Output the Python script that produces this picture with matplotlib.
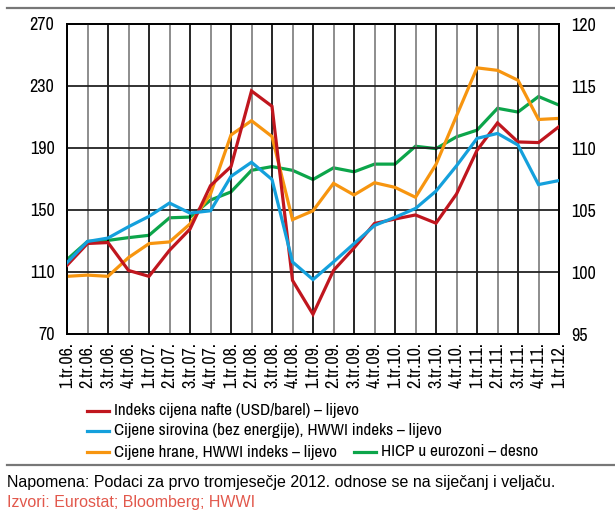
import matplotlib
matplotlib.use("Agg")
import matplotlib.pyplot as plt
from matplotlib import font_manager as fm

categories = ["1.tr.06.", "2.tr.06.", "3.tr.06.", "4.tr.06.",
              "1.tr.07.", "2.tr.07.", "3.tr.07.", "4.tr.07.",
              "1.tr.08.", "2.tr.08.", "3.tr.08.", "4.tr.08.",
              "1.tr.09.", "2.tr.09.", "3.tr.09.", "4.tr.09.",
              "1.tr.10.", "2.tr.10.", "3.tr.10.", "4.tr.10.",
              "1.tr.11.", "2.tr.11.", "3.tr.11.", "4.tr.11.", "1.tr.12."]

oil = [114.3, 128.4, 129.0, 111.0, 107.2, 124.0, 137.7, 165.7, 178.0, 226.8,
       216.9, 104.6, 82.7, 111.0, 125.5, 141.3, 144.2, 146.8, 141.5, 160.3,
       188.5, 206.2, 193.9, 193.5, 203.8]
raw = [116.0, 129.7, 131.9, 139.2, 145.9, 154.5, 148.0, 149.5, 171.7, 180.8,
       169.7, 116.5, 105.1, 116.5, 128.3, 140.0, 145.3, 151.0, 162.2, 178.5,
       196.2, 199.4, 191.9, 166.4, 169.0]
food = [107.2, 108.0, 107.2, 119.3, 128.3, 129.4, 141.0, 160.3, 198.4, 207.6,
        197.4, 143.8, 149.5, 167.2, 159.7, 167.6, 164.6, 158.2, 179.4, 210.7,
        241.7, 240.1, 233.7, 208.4, 209.1]
hicp = [101.0, 102.46, 102.55, 102.77, 102.96, 104.37, 104.43, 105.8, 106.46, 108.2,
        108.5, 108.2, 107.46, 108.4, 108.08, 108.7, 108.7, 110.14, 109.95, 110.9,
        111.44, 113.2, 112.9, 114.15, 113.46]

left_ticks = [70, 110, 150, 190, 230, 270]
right_ticks = [95, 100, 105, 110, 115, 120]

legend_labels = ["Indeks cijena nafte (USD/barel) – lijevo",
                 "Cijene sirovina (bez energije), HWWI indeks – lijevo",
                 "Cijene hrane, HWWI indeks – lijevo",
                 "HICP u eurozoni – desno"]
note_text = "Napomena: Podaci za prvo tromjesečje 2012. odnose se na siječanj i veljaču."
source_text = "Izvori: Eurostat; Bloomberg; HWWI"

RED = "#c0161e"
BLUE = "#14a0dc"
ORANGE = "#f7950f"
GREEN = "#0ca54a"

names = {f.name for f in fm.fontManager.ttflist}
NARROW = next((n for n in ["Archivo Narrow", "Roboto Condensed", "PT Sans Narrow"] if n in names),
              "Liberation Sans")
NF = [NARROW, "DejaVu Sans"]
RF = ["Liberation Sans", "DejaVu Sans"]
plt.rcParams["font.family"] = NF

W, H = 615, 519
fig = plt.figure(figsize=(W / 100, H / 100), dpi=100)

L, R, T, B = 67, 559, 24, 334
ax = fig.add_axes([L / W, 1 - B / H, (R - L) / W, (B - T) / H])
ax2 = ax.twinx()

x = list(range(len(categories)))
ax.set_xlim(0, len(categories) - 1)
ax.set_ylim(70, 270)
ax2.set_ylim(95, 120)

# grid
for i in x:
    ax.axvline(i, color="#7a7a7a" if i % 2 == 1 else "#000000", lw=1.2, zorder=1)
for v in left_ticks[1:-1]:
    ax.axhline(v, color="#222222", lw=1.3, zorder=1)

lw = 2.3
ax.plot(x, oil, color=RED, lw=lw, zorder=3, solid_joinstyle="miter")
ax.plot(x, raw, color=BLUE, lw=lw, zorder=4, solid_joinstyle="miter")
ax.plot(x, food, color=ORANGE, lw=lw, zorder=2.5, solid_joinstyle="miter")
ax2.plot(x, hicp, color=GREEN, lw=lw, zorder=3, solid_joinstyle="miter")
ax.set_zorder(ax2.get_zorder() + 1)
ax.patch.set_visible(False)

fs = 13
ax.set_yticks(left_ticks)
ax.set_yticklabels([str(v) for v in left_ticks], fontsize=fs)
ax2.set_yticks(right_ticks)
ax2.set_yticklabels([str(v) for v in right_ticks], fontsize=fs)
ax.set_xticks(x)
ax.set_xticklabels(categories, rotation=90, fontsize=fs)
ax.tick_params(axis="both", length=0, pad=9)
ax2.tick_params(axis="both", length=0, pad=9)
ax.tick_params(axis="x", pad=6)

for a in (ax, ax2):
    for s in a.spines.values():
        s.set_color("black")
        s.set_linewidth(1.3)

# legend (manual)
lfs = 12.3
def leg(xl, y, color, text):
    fig.add_artist(plt.Line2D([xl / W, (xl + 22) / W], [1 - y / H, 1 - y / H],
                              color=color, lw=2.3))
    fig.text((xl + 27) / W, 1 - y / H, text, fontsize=lfs, va="center", ha="left")

leg(87, 411, RED, legend_labels[0])
leg(87, 431, BLUE, legend_labels[1])
leg(87, 452, ORANGE, legend_labels[2])
leg(354, 452, GREEN, legend_labels[3])

# separator lines
fig.add_artist(plt.Line2D([7 / W, 1], [1 - 8 / H, 1 - 8 / H], color="#777777", lw=1.6))
fig.add_artist(plt.Line2D([7 / W, 1], [1 - 465 / H, 1 - 465 / H], color="#777777", lw=1.6))

fig.text(7 / W, 1 - 482 / H, note_text, fontsize=11.5, va="center", ha="left", family=RF)
fig.text(7 / W, 1 - 503 / H, source_text, fontsize=11.5, va="center", ha="left",
         color="#e2584c", family=RF)

fig.savefig("out.png", dpi=100)
